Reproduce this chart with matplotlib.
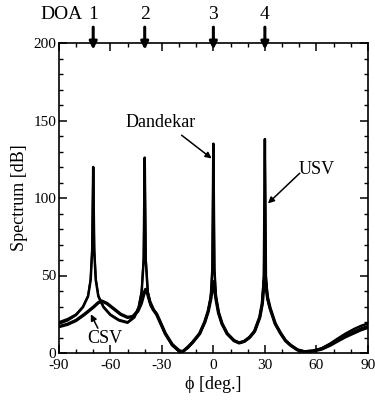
import numpy as np
import matplotlib.pyplot as plt
from matplotlib.ticker import MultipleLocator

plt.rcParams['font.family'] = ['Liberation Serif', 'DejaVu Serif']
plt.rcParams['axes.unicode_minus'] = False

# angles of arrival
doa_angles = [-70, -40, 0, 30]
doa_labels = ['1', '2', '3', '4']

# Dandekar spectrum (thin, sharp peaks)
dand_x = [-90, -85, -80, -76, -73, -71.5, -70.6, -70, -69.4, -68.5, -67, -64, -60, -55,
          -50, -46, -43.5, -41.8, -40.6, -40, -39.4, -38.2, -36.5, -33, -28, -24, -20,
          -18, -15, -12, -8, -5, -3, -1.5, -0.6, 0, 0.6, 1.5, 3, 5, 8, 12, 15, 18, 21,
          24, 27, 28.5, 29.4, 30, 30.6, 31.5, 33, 36, 39, 42, 45, 49, 53, 58, 63, 68,
          72, 77, 82, 86, 90]
dand_y = [20, 22, 25, 30, 37, 48, 68, 120, 68, 48, 37, 30, 25, 21.5,
          20, 23.5, 30, 40, 62, 126, 62, 40, 31, 25, 13, 5.5, 1.5,
          1, 4, 7, 12.5, 20, 27, 36, 55, 135, 55, 36, 26, 19, 12.5, 8, 6.6, 7.5, 10,
          14, 23, 32, 50, 138, 50, 35, 29, 19, 13, 8, 5, 2, 1, 1.5, 3, 6,
          8.5, 11.5, 14, 16, 17.5]

# USV spectrum (close to Dandekar)
usv_x = [-90, -85, -80, -76, -73, -71.5, -70.6, -70, -69.4, -68.5, -67, -64, -60, -55,
         -50, -46, -43.5, -41.8, -40.6, -40, -39.4, -38.2, -36.5, -33, -28, -24, -20,
         -18, -15, -12, -8, -5, -3, -1.5, -0.6, 0, 0.6, 1.5, 3, 5, 8, 12, 15, 18, 21,
         24, 27, 28.5, 29.4, 30, 30.6, 31.5, 33, 36, 39, 42, 45, 49, 53, 58, 63, 68,
         72, 77, 82, 86, 90]
usv_y = [19, 21, 24.5, 29.5, 36.5, 47, 66, 120, 66, 47, 36.5, 29.5, 24.5, 21,
         19.5, 23, 29.5, 39, 60, 126, 60, 39, 30.5, 24.5, 12.5, 5, 1,
         0.8, 3.5, 7, 12.5, 20, 27, 36, 54, 135, 54, 36, 26, 19, 12.5, 8, 6.6, 7.5, 10,
         14, 23, 32, 50, 138, 50, 35, 29, 19, 13, 8, 5, 2, 1, 1.5, 3, 6,
         9, 12.5, 15.5, 17.5, 19]

# CSV spectrum (broad)
csv_x = [-90, -85, -80, -75, -70, -67, -65, -62, -58, -54, -50, -47, -44, -42, -40.5,
         -39.5, -38.5, -37, -35, -33, -28, -24, -20, -18, -15, -12, -8, -5, -3, -1.5,
         -0.5, 0, 0.5, 1.5, 3, 5, 8, 12, 15, 18, 21, 24, 27, 28.5, 29.5, 30, 30.5, 31.5,
         33, 36, 39, 42, 45, 49, 53, 58, 63, 68, 72, 77, 82, 86, 90]
csv_y = [17, 18.5, 21, 25, 29.5, 32.5, 33.5, 32, 28.5, 25, 23, 23.5, 27, 32, 38,
         41, 39, 33, 28, 25, 12.5, 5.5, 1.5, 0.8, 3.5, 7, 12.5, 20, 27, 35,
         43, 46, 43, 35, 26, 19, 12.5, 8, 6.5, 7.5, 10, 14, 23, 32, 45, 49, 45, 36,
         29, 19, 13, 8, 5, 2, 0.8, 1.2, 2.5, 5, 7.5, 10.5, 13, 15, 16.5]

fig = plt.figure(figsize=(3.75, 4.0), dpi=100)
ax = fig.add_axes([0.157, 0.1175, 0.824, 0.775])

ax.plot(csv_x, csv_y, color='black', lw=2.4)
ax.plot(usv_x, usv_y, color='black', lw=1.8)
ax.plot(dand_x, dand_y, color='black', lw=1.4)

ax.set_xlim(-90, 90)
ax.set_ylim(0, 200)
ax.xaxis.set_major_locator(MultipleLocator(30))
ax.xaxis.set_minor_locator(MultipleLocator(10))
ax.yaxis.set_major_locator(MultipleLocator(50))
ax.yaxis.set_minor_locator(MultipleLocator(10))
ax.tick_params(which='both', direction='in', top=True, right=True, labelsize=11)
ax.tick_params(axis='y', pad=2)
ax.tick_params(axis='x', pad=4)
ax.tick_params(which='major', length=6, width=1.1)
ax.tick_params(which='minor', length=3, width=1.0)
for s in ax.spines.values():
    s.set_linewidth(1.2)

ax.set_xlabel('ϕ [deg.]', fontsize=13, labelpad=3)
ax.set_ylabel('Spectrum [dB]', fontsize=13, labelpad=4)

# DOA arrows on top
for ang, lab in zip(doa_angles, doa_labels):
    ax.annotate('', xy=(ang, 194), xytext=(ang, 212), xycoords='data',
                arrowprops=dict(arrowstyle='-|>', lw=2.2, color='black', mutation_scale=11),
                annotation_clip=False)
    ax.text(ang, 213, lab, ha='center', va='bottom', fontsize=14, clip_on=False)
ax.text(-76, 213, 'DOA', ha='right', va='bottom', fontsize=14, clip_on=False)

# curve labels
arrow_kw = dict(arrowstyle='-|>', lw=1.1, color='black', mutation_scale=9,
                shrinkA=0, shrinkB=0)
ax.text(-30.5, 148.5, 'Dandekar', fontsize=13, ha='center', va='center')
ax.annotate('', xy=(-1.0, 125.5), xytext=(-18.5, 140.5), arrowprops=arrow_kw)
ax.text(49.5, 118.5, 'USV', fontsize=13, ha='left', va='center')
ax.annotate('', xy=(31.8, 96.5), xytext=(50.3, 116), arrowprops=arrow_kw)
ax.text(-63.5, 9.5, 'CSV', fontsize=13, ha='center', va='center')
ax.annotate('', xy=(-71.4, 25), xytext=(-67.3, 16), arrowprops=arrow_kw)

fig.savefig('out.png', dpi=100)
